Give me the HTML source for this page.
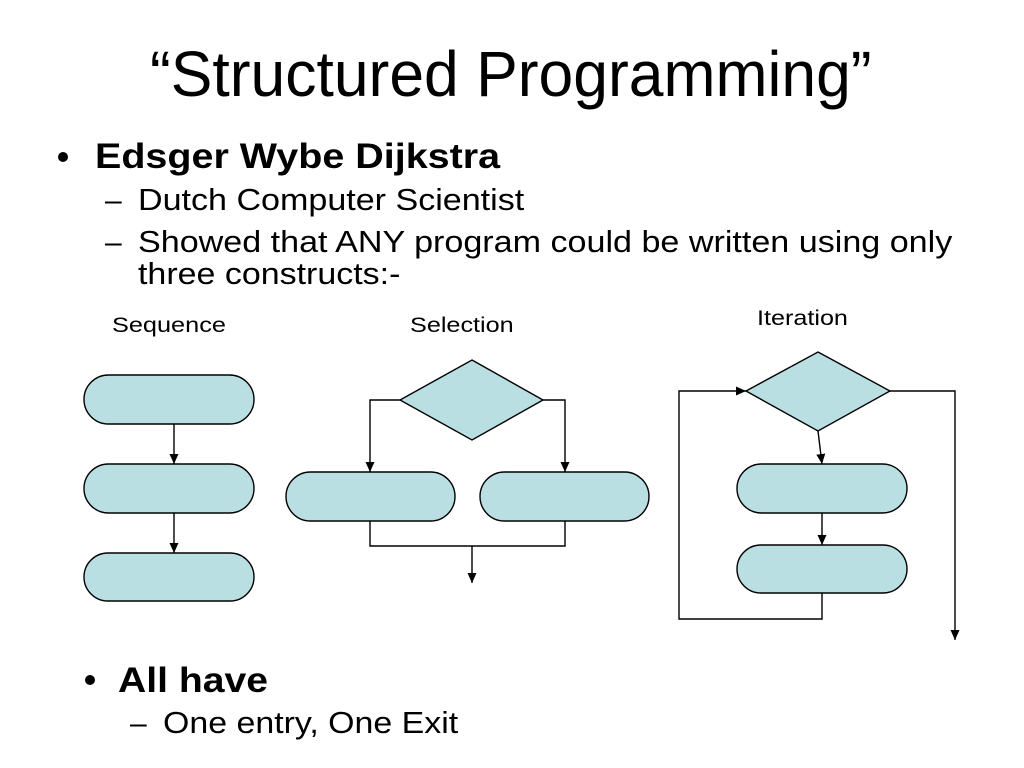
<!DOCTYPE html>
<html><head><meta charset="utf-8"><style>
html,body{margin:0;padding:0;background:#fff;}
svg{display:block;}
text{font-family:"Liberation Sans",Arial,sans-serif;fill:#000;}
</style></head><body>
<svg width="1024" height="768" viewBox="0 0 1024 768" xmlns="http://www.w3.org/2000/svg">
<defs>
<marker id="ar" markerWidth="12" markerHeight="12" refX="10" refY="5.5" orient="auto" markerUnits="userSpaceOnUse">
<path d="M0,1 L10,5.5 L0,10 z" fill="#000"/>
</marker>
</defs>
<rect width="1024" height="768" fill="#fff"/>
<g transform="translate(150,96) scale(0.82,1)"><text x="0" y="0" font-size="64" textLength="880" lengthAdjust="spacingAndGlyphs">“Structured Programming”</text></g>
<circle cx="63" cy="157" r="5" fill="#000"/>
<g transform="translate(95,168) scale(0.82,1)"><text font-size="35" font-weight="bold" textLength="494" lengthAdjust="spacingAndGlyphs">Edsger Wybe Dijkstra</text></g>
<text x="105" y="210" font-size="30">–</text>
<g transform="translate(138,210) scale(0.82,1)"><text font-size="31" textLength="471" lengthAdjust="spacingAndGlyphs">Dutch Computer Scientist</text></g>
<text x="105" y="252" font-size="30">–</text>
<g transform="translate(138,252) scale(0.82,1)"><text font-size="31" textLength="993" lengthAdjust="spacingAndGlyphs">Showed that ANY program could be written using only</text></g>
<g transform="translate(138,284) scale(0.82,1)"><text font-size="31" textLength="320" lengthAdjust="spacingAndGlyphs">three constructs:-</text></g>
<g transform="translate(112,332) scale(0.85,1)"><text font-size="21" textLength="134" lengthAdjust="spacingAndGlyphs">Sequence</text></g>
<g transform="translate(410,332) scale(0.85,1)"><text font-size="21" textLength="122" lengthAdjust="spacingAndGlyphs">Selection</text></g>
<g transform="translate(757,325) scale(0.85,1)"><text font-size="21" textLength="107" lengthAdjust="spacingAndGlyphs">Iteration</text></g>
<circle cx="90" cy="680" r="5" fill="#000"/>
<g transform="translate(118,692) scale(0.82,1)"><text font-size="35" font-weight="bold" textLength="183" lengthAdjust="spacingAndGlyphs">All have</text></g>
<text x="130" y="733" font-size="30">–</text>
<g transform="translate(163,733) scale(0.82,1)"><text font-size="31" textLength="360" lengthAdjust="spacingAndGlyphs">One entry, One Exit</text></g>

<g fill="#b9dfe2" stroke="#000" stroke-width="1.4">
<rect x="84" y="375" width="170" height="49" rx="24.5"/>
<rect x="84" y="464" width="170" height="49" rx="24.5"/>
<rect x="84" y="553" width="170" height="48" rx="24"/>
<polygon points="472,360 543,400 472,440 400,400"/>
<rect x="286" y="472" width="169" height="49" rx="24.5"/>
<rect x="480" y="472" width="169" height="49" rx="24.5"/>
<polygon points="818,352 890,391 818,431 746,391"/>
<rect x="737" y="464" width="170" height="49" rx="24.5"/>
<rect x="737" y="545" width="170" height="48" rx="24"/>
</g>
<g fill="none" stroke="#000" stroke-width="1.4">
<line x1="174" y1="424" x2="174" y2="464" marker-end="url(#ar)"/>
<line x1="174" y1="513" x2="174" y2="553" marker-end="url(#ar)"/>
<polyline points="400,400 370,400 370,472" marker-end="url(#ar)"/>
<polyline points="543,400 565,400 565,472" marker-end="url(#ar)"/>
<polyline points="370,521 370,546 565,546 565,521"/>
<line x1="472" y1="546" x2="472" y2="583" marker-end="url(#ar)"/>
<line x1="818" y1="431" x2="822" y2="464" marker-end="url(#ar)"/>
<line x1="822" y1="513" x2="822" y2="545" marker-end="url(#ar)"/>
<polyline points="822,593 822,619 679,619 679,391 746,391" marker-end="url(#ar)"/>
<polyline points="890,391 955,391 955,640" marker-end="url(#ar)"/>
</g>
</svg>
</body></html>
